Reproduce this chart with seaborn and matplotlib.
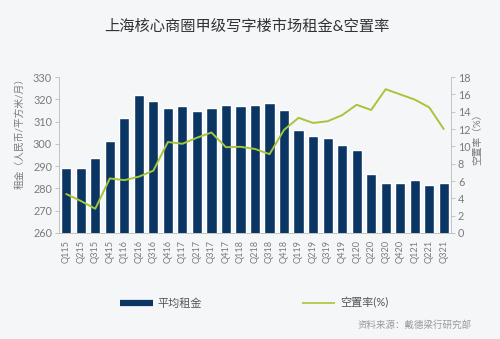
import numpy as np
import pandas as pd
import matplotlib
matplotlib.use("Agg")
import matplotlib.pyplot as plt
from matplotlib.lines import Line2D
import seaborn as sns

quarters = ["Q115", "Q215", "Q315", "Q415", "Q116", "Q216", "Q316", "Q416",
            "Q117", "Q217", "Q317", "Q417", "Q118", "Q218", "Q318", "Q418",
            "Q119", "Q219", "Q319", "Q419", "Q120", "Q220", "Q320", "Q420",
            "Q121", "Q221", "Q321"]
rent = [289, 289, 293.5, 301.4, 311.6, 321.9, 319.2, 316.2,
        316.8, 314.7, 316.1, 317.3, 317.0, 317.6, 318.2, 315.2,
        306.2, 303.4, 302.6, 299.6, 297.2, 286.3, 282.6, 282.4,
        283.6, 281.4, 282.4]
vacancy = [4.5, 3.7, 2.8, 6.3, 6.1, 6.5, 7.2, 10.5,
           10.3, 11.0, 11.6, 9.9, 9.95, 9.7, 9.1, 11.9,
           13.3, 12.7, 12.9, 13.6, 14.8, 14.2, 16.6, 16.0,
           15.4, 14.5, 12.0]

BAR = "#0b3663"
LINE = "#a6c53a"
BG = "#f5f6f8"
GREY = "#7a7a7a"

sns.set_theme(style="white")
plt.rcParams["font.family"] = ["Lato", "Noto Sans CJK SC", "DejaVu Sans"]

df = pd.DataFrame({"quarter": quarters, "rent": rent, "vacancy": vacancy,
                   "pos": np.arange(len(quarters))})

fig = plt.figure(figsize=(5.0, 3.39), dpi=100, facecolor=BG)
ax = fig.add_axes([0.118, 0.3127, 0.784, 0.460])
ax.set_facecolor(BG)

sns.barplot(data=df, x="quarter", y="rent", color=BAR, width=0.7,
            saturation=1, ax=ax, zorder=2)
ax.set_ylim(260, 330)
ax.set_xlim(-0.5, len(quarters) - 0.5)
ax.set_yticks(np.arange(260, 331, 10))

ax2 = ax.twinx()
sns.lineplot(data=df, x="pos", y="vacancy", color=LINE, linewidth=1.4,
             ax=ax2, zorder=3)
ax2.set_ylim(0, 18)
ax2.set_yticks(np.arange(0, 19, 2))
ax2.set_xlim(-0.5, len(quarters) - 0.5)

for a in (ax, ax2):
    for s in a.spines.values():
        s.set_visible(False)
    a.tick_params(axis="y", length=3, width=0.6, color="#bbbbbb",
                  labelsize=7.8, labelcolor=GREY, pad=2)
ax.spines["left"].set_visible(True)
ax.spines["left"].set_color("#bbbbbb")
ax.spines["left"].set_linewidth(0.6)
ax.spines["bottom"].set_visible(True)
ax.spines["bottom"].set_color("#bbbbbb")
ax.spines["bottom"].set_linewidth(0.6)
ax2.spines["right"].set_visible(True)
ax2.spines["right"].set_color("#bbbbbb")
ax2.spines["right"].set_linewidth(0.6)

ax.tick_params(axis="x", length=2, width=0.6, color="#bbbbbb",
               labelsize=6.6, labelcolor=GREY, labelrotation=90, pad=3)
ax.set_xlabel("")
ax2.set_xlabel("")
ax.set_ylabel("")
ax2.set_ylabel("")

fig.text(0.04, 0.615, "租金（人民币/平方米/月）", rotation=90, ha="center",
         va="center", fontsize=7, color=GREY)
fig.text(0.956, 0.595, "空置率（%）", rotation=90, ha="center",
         va="center", fontsize=7, color=GREY)

fig.text(0.494, 0.92, "上海核心商圈甲级写字楼市场租金&空置率", ha="center",
         va="center", fontsize=11, color="#333333")

handles = [Line2D([0], [0], color=BAR, linewidth=4.5, solid_capstyle="butt"),
           Line2D([0], [0], color=LINE, linewidth=1.2, solid_capstyle="butt")]
fig.legend(handles, ["平均租金", "空置率(%)"], loc="center",
           bbox_to_anchor=(0.508, 0.106), ncol=2, frameon=False,
           fontsize=8, labelcolor="#555555", handlelength=3.0,
           handletextpad=0.4, columnspacing=9.0)

fig.text(0.944, 0.04, "资料来源：戴德梁行研究部", ha="right", va="center",
         fontsize=6.8, color="#999999")

fig.savefig("out.png", dpi=100, facecolor=BG)
